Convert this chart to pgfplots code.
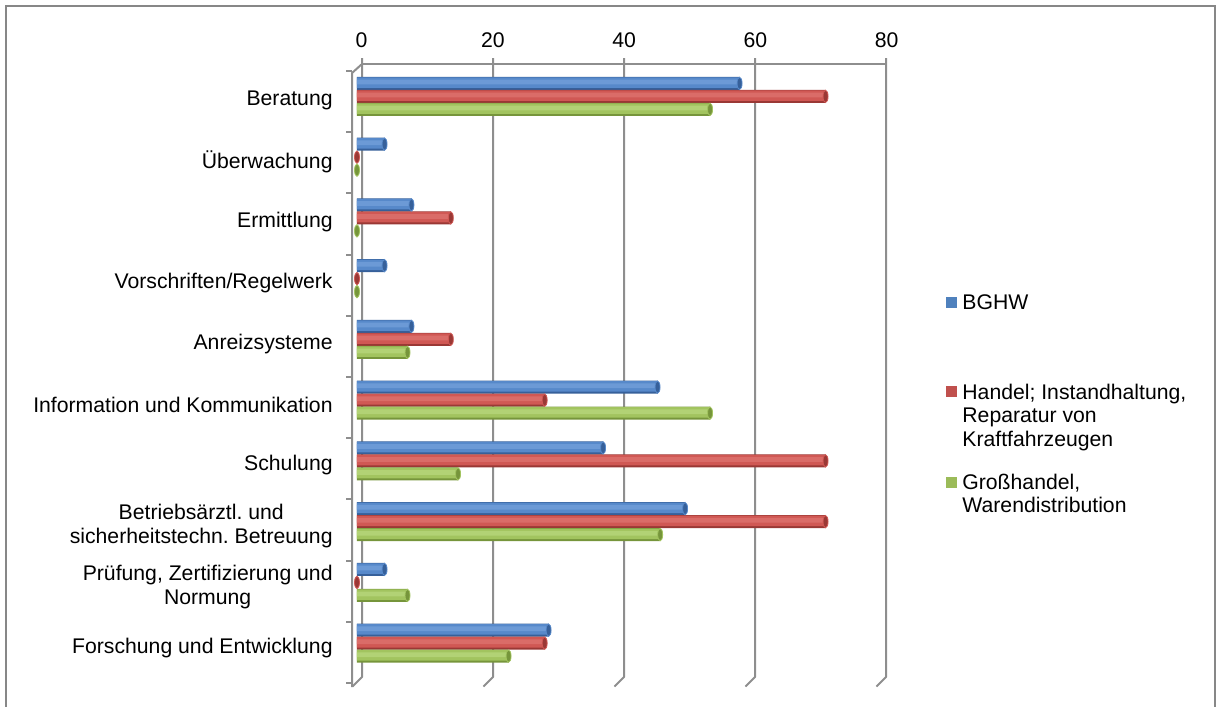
\documentclass[border=0pt]{standalone}
\usepackage{pgfplots}
\pgfplotsset{compat=1.18}
\usepackage{pgfplotstable}
\usepackage{fontspec}
\setmainfont{Liberation Sans}

\definecolor{frameg}{HTML}{878787}
\definecolor{gridg}{HTML}{8E8E8E}
\definecolor{cBlue}{HTML}{4F81BD}
\definecolor{cRed}{HTML}{C0504D}
\definecolor{cGreen}{HTML}{9BBB59}
% cylinder tones: rim, body, highlight
\definecolor{bDk}{HTML}{36609A}
\definecolor{bMd}{HTML}{5789CA}
\definecolor{bLt}{HTML}{6C9AD6}
\definecolor{rDk}{HTML}{9A3835}
\definecolor{rMd}{HTML}{D05854}
\definecolor{rLt}{HTML}{DA6C68}
\definecolor{gDk}{HTML}{76953B}
\definecolor{gMd}{HTML}{A2C45F}
\definecolor{gLt}{HTML}{B2D275}

\newcommand{\labfont}{\fontsize{10.6}{12}\selectfont}

% share of answers per measure (percent)
\pgfplotstableread{
idx bghw handel gross
1  58.3 71.4 53.8
2  4.2  0    0
3  8.3  14.3 0
4  4.2  0    0
5  8.3  14.3 7.7
6  45.8 28.6 53.8
7  37.5 71.4 15.4
8  50.0 71.4 46.2
9  4.2  0    7.7
10 29.2 28.6 23.1
}\datatable

% one cylinder-like bar layer: {width}{shift}{colour}
\pgfplotsset{
  layer/.style n args={3}{xbar, bar width=#1, bar shift=#2, draw=none, fill=#3},
  cap/.style n args={2}{only marks, mark=*, mark size=3.1pt,
    mark options={xscale=0.4, fill=#1, draw=#2, line width=0.4pt}},
}

\begin{document}
\frenchspacing
\begin{tikzpicture}
% ---- frame, back wall, left wall (pixel units, y downwards) ----
\begin{scope}[x=0.5pt,y=-0.5pt]
  \path[use as bounding box] (0,0) rectangle (1216,707);
  \draw[frameg, line width=1pt] (6,707) -- (6,6) -- (1215,6) -- (1215,707);
  \draw[gridg, line width=1pt] (362,64) -- (886,64);
  \foreach \gx in {362,493,624,755,886}
    \draw[gridg, line width=1pt, line join=round] (\gx,58) -- (\gx,677) -- (\gx-9.5,686.5);
  \draw[gridg, line width=1pt, line join=round] (362,64) -- (352,73) -- (352,687);
  \foreach \k in {0,...,10}
    \draw[gridg, line width=1pt] (346,71+61.2*\k) -- (352,71+61.2*\k);
  % legend
  \fill[cBlue]  (946,297) rectangle (957,307.5);
  \fill[cRed]   (946,386) rectangle (957,396.5);
  \fill[cGreen] (946,477) rectangle (957,487.5);
  \node[anchor=base west, inner sep=0pt, font=\labfont] at (962,309) {BGHW};
  \node[anchor=base west, inner sep=0pt, font=\labfont] at (962,399) {Handel; Instandhaltung,};
  \node[anchor=base west, inner sep=0pt, font=\labfont] at (962,422.5) {Reparatur von};
  \node[anchor=base west, inner sep=0pt, font=\labfont] at (962,446) {Kraftfahrzeugen};
  \node[anchor=base west, inner sep=0pt, font=\labfont] at (962,489) {Großhandel,};
  \node[anchor=base west, inner sep=0pt, font=\labfont] at (962,512.5) {Warendistribution};
\end{scope}

\begin{axis}[
  at={(178.5pt,-336.75pt)}, anchor=south west,
  scale only axis, width=262.5pt, height=303.75pt,
  xmin=0, xmax=80, ymin=0.5, ymax=10.5, y dir=reverse,
  axis line style={draw=none},
  clip=false,
  xtick={0,20,40,60,80},
  xticklabel pos=upper,
  xtick style={draw=none}, ytick style={draw=none},
  xticklabel style={anchor=base, inner sep=0pt, yshift=9.3pt, xshift=2.3pt, font=\labfont},
  /pgf/number format/assume math mode=true,
  ytick={1,...,10},
  yticklabels={Beratung, Überwachung, Ermittlung, Vorschriften/Regelwerk,
    Anreizsysteme, Information und Kommunikation, Schulung,
    {Betriebsärztl. und\\sicherheitstechn. Betreuung},
    {Prüfung, Zertifizierung und\\Normung}, Forschung und Entwicklung},
  yticklabel style={anchor=east, inner sep=0pt, xshift=-12pt, yshift=-2.2pt,
    align=center, font=\labfont},
]
% BGHW
\addplot[layer={0.214}{-0.214}{bDk}] table[x=bghw, y=idx] {\datatable};
\addplot[layer={0.17}{-0.226}{bMd}] table[x=bghw, y=idx] {\datatable};
\addplot[layer={0.08}{-0.236}{bLt}] table[x=bghw, y=idx] {\datatable};
% Handel; Instandhaltung, Reparatur von Kraftfahrzeugen
\addplot[layer={0.214}{0}{rDk}] table[x=handel, y=idx] {\datatable};
\addplot[layer={0.17}{-0.012}{rMd}] table[x=handel, y=idx] {\datatable};
\addplot[layer={0.08}{-0.022}{rLt}] table[x=handel, y=idx] {\datatable};
% Großhandel, Warendistribution
\addplot[layer={0.214}{0.214}{gDk}] table[x=gross, y=idx] {\datatable};
\addplot[layer={0.17}{0.202}{gMd}] table[x=gross, y=idx] {\datatable};
\addplot[layer={0.08}{0.192}{gLt}] table[x=gross, y=idx] {\datatable};
% cylinder end caps
\addplot[cap={bDk}{bMd}] table[x=bghw, y expr=\thisrow{idx}-0.214] {\datatable};
\addplot[cap={rDk}{rMd}] table[x=handel, y=idx] {\datatable};
\addplot[cap={gDk}{gMd}] table[x=gross, y expr=\thisrow{idx}+0.214] {\datatable};
\end{axis}
\end{tikzpicture}
\end{document}
